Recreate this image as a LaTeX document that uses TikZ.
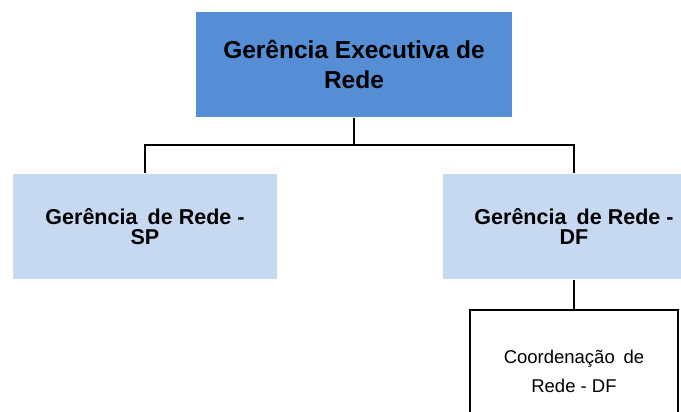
\documentclass[tikz,border=0pt]{standalone}
\usepackage{fontspec}
\setmainfont{Liberation Sans}
\definecolor{execblue}{HTML}{558ED5}
\definecolor{gerblue}{HTML}{C6D9F1}
\begin{document}
\begin{tikzpicture}[x=1pt,y=1pt,line width=1.8pt,
  execbox/.style={fill=execblue,align=center,inner sep=0pt,
    minimum width=316pt,minimum height=105pt,
    font=\fontsize{24.5}{30}\selectfont\bfseries},
  gerbox/.style={fill=gerblue,align=center,inner sep=0pt,
    minimum width=264pt,minimum height=105pt,
    font=\fontsize{21.5}{20.5}\selectfont\bfseries},
  coordbox/.style={draw,fill=white,align=center,inner sep=0pt,
    minimum width=208pt,minimum height=122pt,
    font=\fontsize{18.5}{29}\selectfont}]
 \useasboundingbox (0,0) rectangle (681,412);
 % boxes
 \node[execbox] (exec) at (354,347.5) {Gerência Executiva de\\Rede};
 \node[gerbox] (sp) at (145,185.5) {Gerência\hspace{0.2em} de Rede -\\SP};
 \node[gerbox,minimum width=262pt] (df) at (574,185.5) {Gerência\hspace{0.2em} de Rede -\\DF};
 \node[coordbox] (coord) at (574,41) {Coordenação\hspace{0.2em} de\\Rede - DF};
 % connectors
 \draw (exec.south) -- (exec.south |- 0,267) coordinate (J);
 \draw (sp.north) |- (J) -| (df.north);
 \draw (df.south) -- (coord.north);
\end{tikzpicture}
\end{document}
